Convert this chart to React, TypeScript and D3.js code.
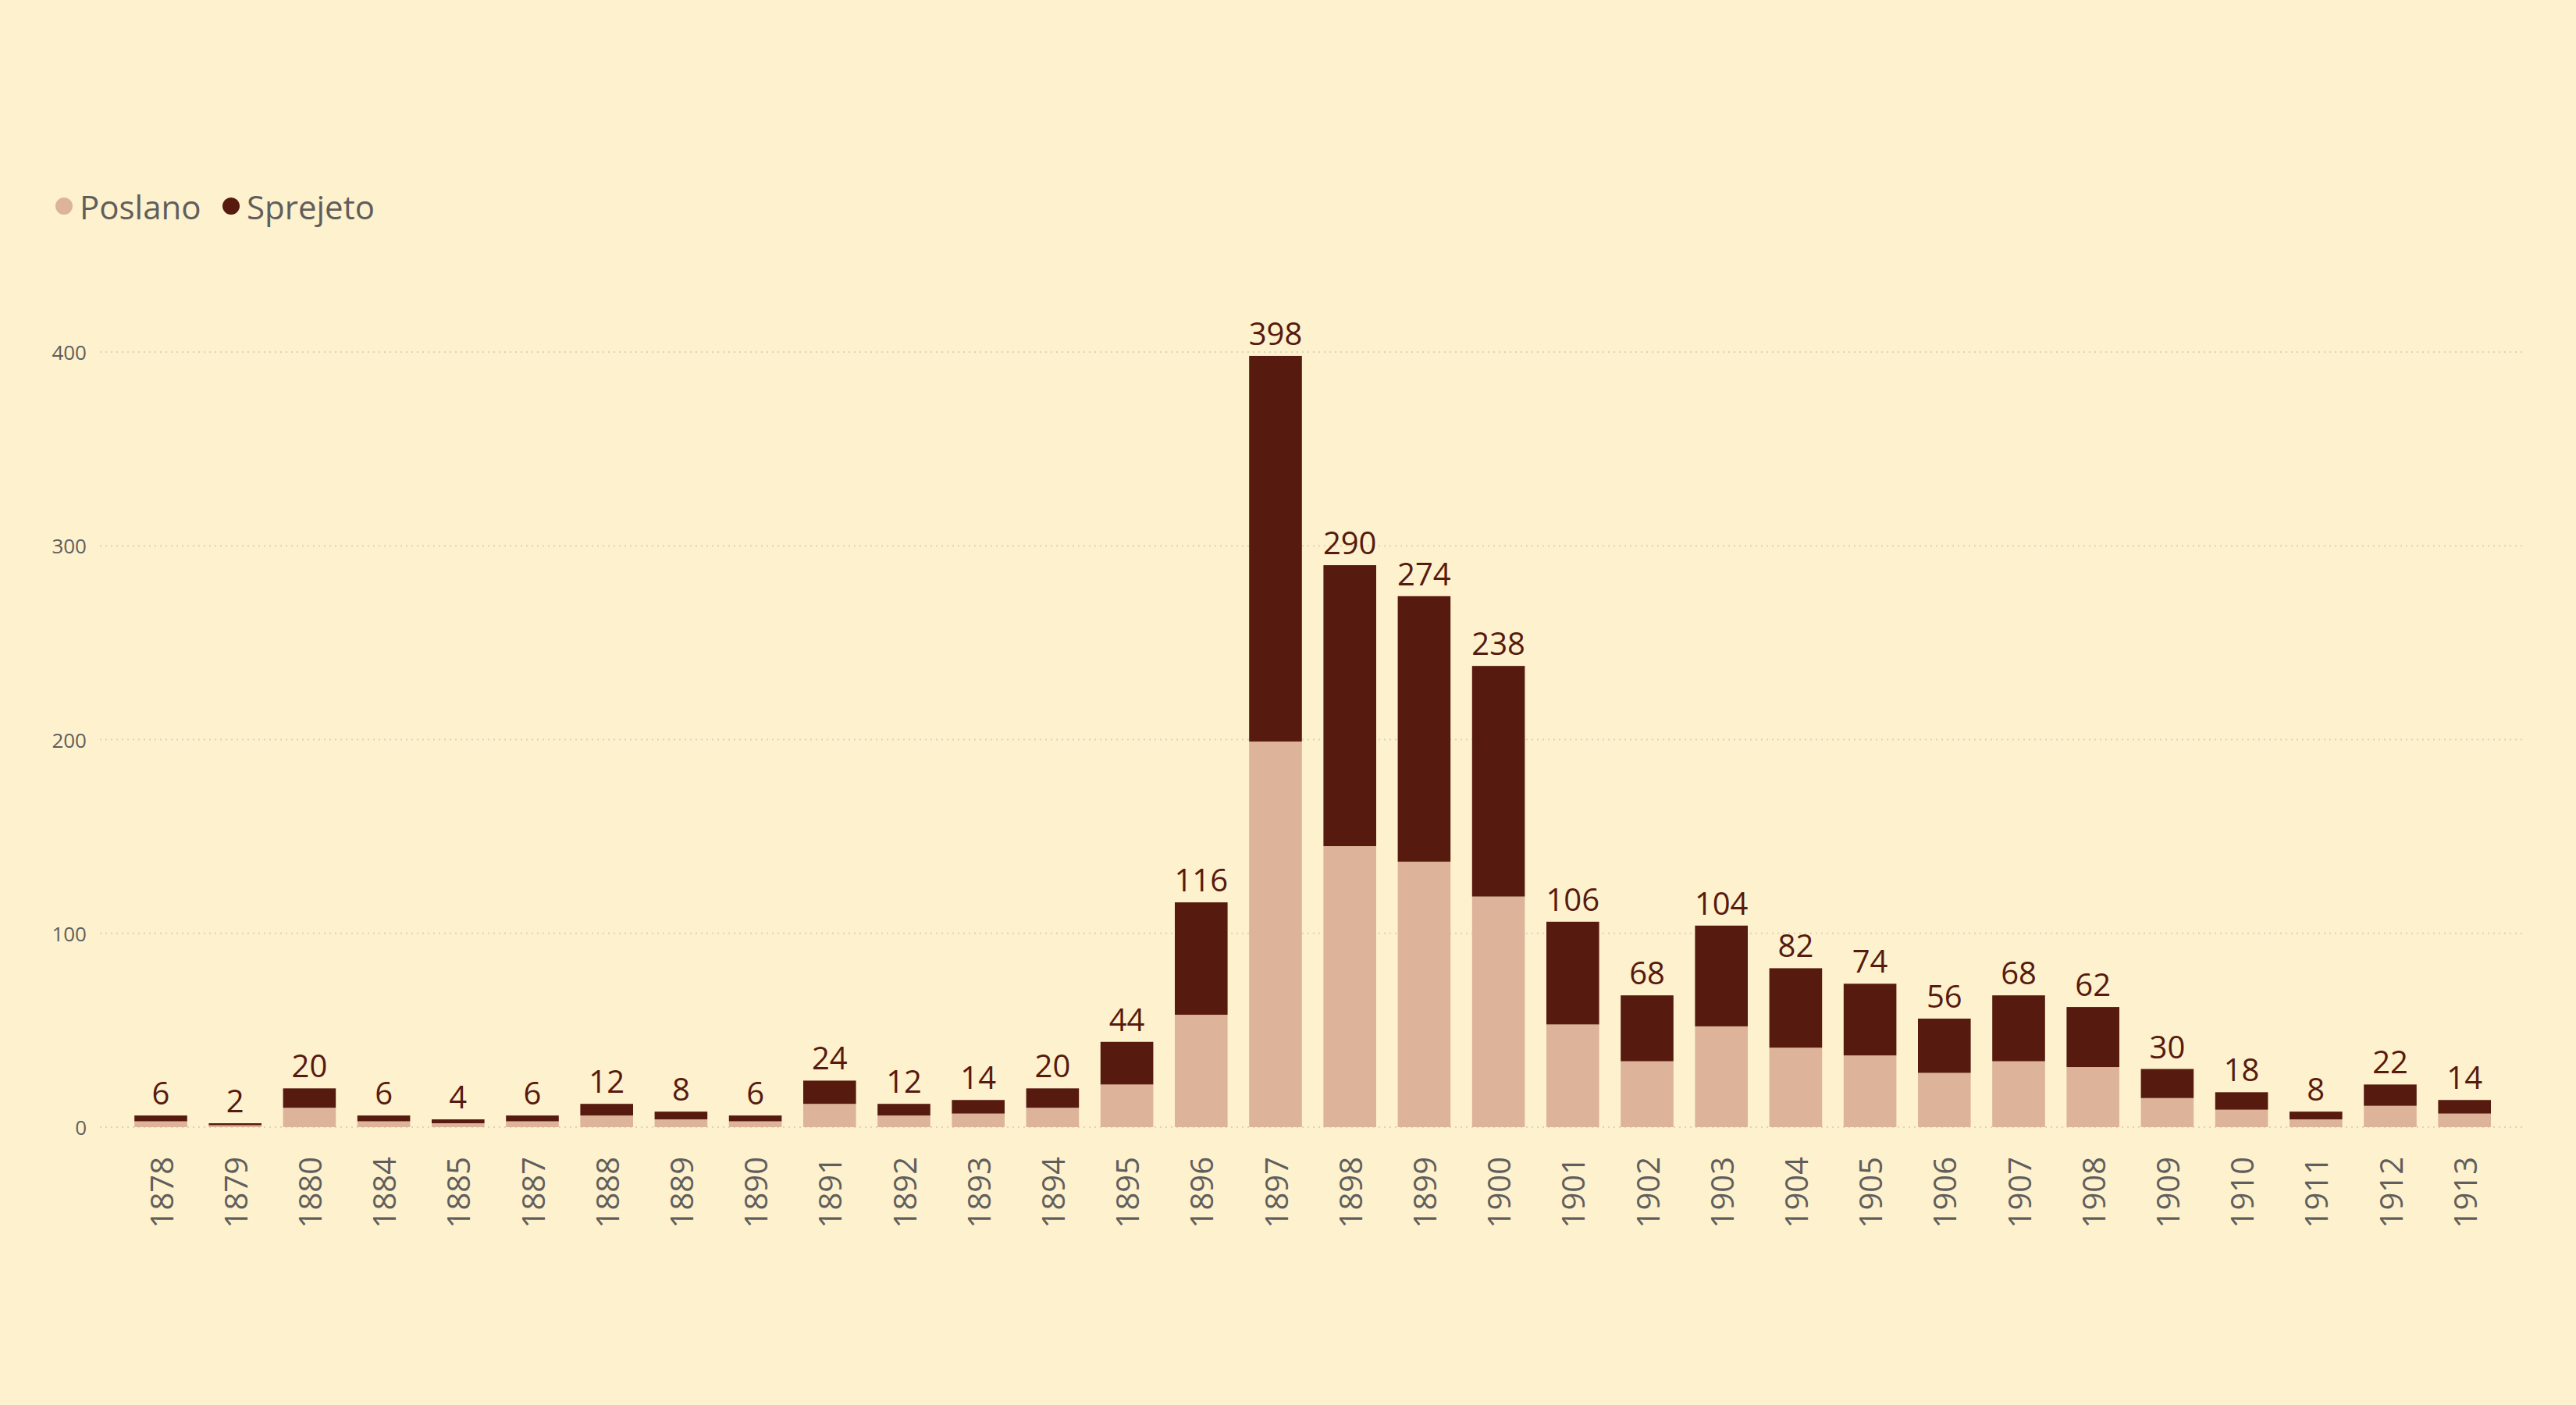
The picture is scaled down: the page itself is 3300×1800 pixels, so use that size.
import React, { useEffect } from "react";
import * as d3 from "d3";

const years = ["1878","1879","1880","1884","1885","1887","1888","1889","1890","1891","1892","1893","1894","1895","1896","1897","1898","1899","1900","1901","1902","1903","1904","1905","1906","1907","1908","1909","1910","1911","1912","1913"];
const poslano = [3,1,10,3,2,3,6,4,3,12,6,7,10,22,58,199,145,137,119,53,34,52,41,37,28,34,31,15,9,4,11,7];
const sprejeto = [3,1,10,3,2,3,6,4,3,12,6,7,10,22,58,199,145,137,119,53,34,52,41,37,28,34,31,15,9,4,11,7];
const yTicks = [0, 100, 200, 300, 400];
const seriesNames = ["Poslano", "Sprejeto"];
const colors = ["#DDB39A", "#561A0F"];

const W = 3300, H = 1800;
const FONT = "'Open Sans', 'Noto Sans', sans-serif";

export default function App() {
  useEffect(() => {
    document.body.style.margin = "0";
  }, []);

  const x = d3.scaleBand<string>().domain(years).range([158.4, 3204.8]).paddingInner(0.29).paddingOuter(0.145);
  const y = d3.scaleLinear().domain([0, 400]).range([1444, 451]);
  const bw = x.bandwidth();

  const rows = years.map((yr, i) => ({ year: yr, Poslano: poslano[i], Sprejeto: sprejeto[i] }));
  const stack = d3.stack<any>().keys(seriesNames)(rows);

  return (
    <svg width={W} height={H} style={{ display: "block", background: "#FEF1CD" }}>
      <rect x={0} y={0} width={W} height={H} fill="#FEF1CD" />
      {/* Legend */}
      <g fontFamily={FONT} fontSize={42} fill="#605E5C">
        <circle cx={82} cy={264} r={11} fill={colors[0]} />
        <text x={102} y={264} dominantBaseline="central">{seriesNames[0]}</text>
        <circle cx={296} cy={264} r={11} fill={colors[1]} />
        <text x={316} y={264} dominantBaseline="central">{seriesNames[1]}</text>
      </g>
      {/* grid + y ticks */}
      <g fontFamily={FONT} fontSize={26} fill="#605E5C">
        {yTicks.map((t) => (
          <g key={t}>
            <line x1={128} x2={3236} y1={y(t)} y2={y(t)} stroke="#DCD3BA" strokeWidth={2} strokeDasharray="2 5" />
            <text x={111} y={y(t)} textAnchor="end" dominantBaseline="central">{t}</text>
          </g>
        ))}
      </g>
      {/* bars */}
      {stack.map((s, si) => (
        <g key={s.key} fill={colors[si]}>
          {s.map((d, i) => (
            <rect key={i} x={x(years[i])} y={y(d[1])} width={bw} height={y(d[0]) - y(d[1])} />
          ))}
        </g>
      ))}
      {/* totals */}
      <g fontFamily={FONT} fontSize={40} fill="#561A0F" textAnchor="middle">
        {years.map((yr, i) => (
          <text key={yr} x={(x(yr) as number) + bw / 2} y={y(poslano[i] + sprejeto[i]) - 14}>
            {poslano[i] + sprejeto[i]}
          </text>
        ))}
      </g>
      {/* x labels */}
      <g fontFamily={FONT} fontSize={40} fill="#605E5C">
        {years.map((yr) => {
          const cx = (x(yr) as number) + bw / 2;
          return (
            <text key={yr} transform={`translate(${cx},1482) rotate(-90)`} textAnchor="end" dominantBaseline="central">
              {yr}
            </text>
          );
        })}
      </g>
    </svg>
  );
}
